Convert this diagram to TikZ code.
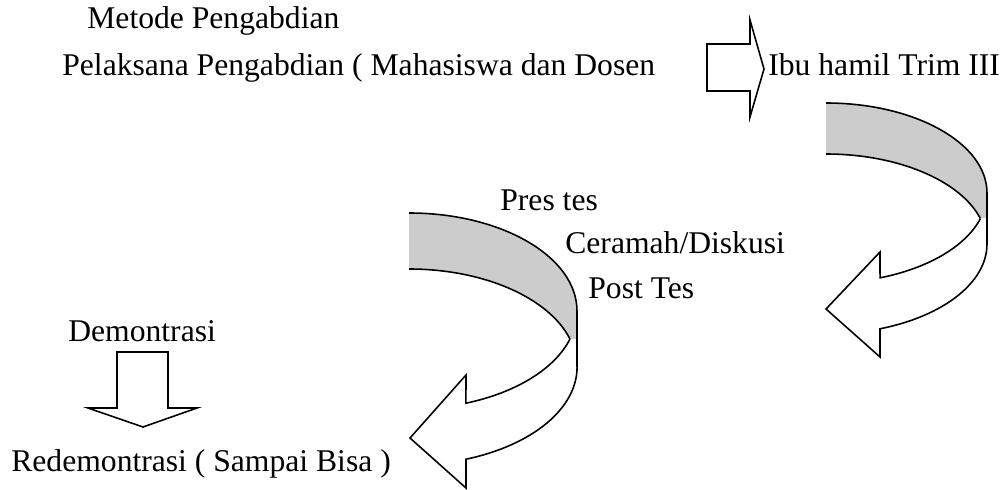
\documentclass[tikz,border=0pt]{standalone}
\usepackage{fontspec}
\setmainfont{Liberation Serif}
\usetikzlibrary{positioning}
\tikzstyle{lbl}=[anchor=base west,inner sep=0pt,font=\fontsize{18}{22}\selectfont]
\tikzstyle{outline}=[draw=black,line width=0.9pt,line join=miter]
\tikzstyle{rarc}=[x radius=161,y radius=90]
\tikzstyle{larc}=[x radius=168,y radius=98]
\begin{document}
\begin{tikzpicture}[x=0.02cm,y=-0.02cm]
  \useasboundingbox (0,0) rectangle (1002,490);
  % texts
  \node[lbl] (metode) at (87,29) {Metode Pengabdian};
  \node[lbl] (pelaksana) at (62,75) {Pelaksana Pengabdian ( Mahasiswa dan Dosen};
  \node[lbl] (ibu) at (768,75) {Ibu hamil Trim III};
  \node[lbl] (pres) at (500,210) {Pres tes};
  \node[lbl] (ceramah) at (565,253) {Ceramah/Diskusi};
  \node[lbl] (post) at (588,298) {Post Tes};
  \node[lbl] (demo) at (68,341) {Demontrasi};
  \node[lbl] (redemo) at (11,471) {Redemontrasi ( Sampai Bisa )};
  % block arrows
  \draw[outline] (707,44) -- (750,44) -- (750,20) -- (764,69) -- (750,117)
    -- (750,91) -- (707,91) -- cycle;
  \draw[outline] (117,352) -- (168,352) -- (168,408) -- (197,408) -- (143,427)
    -- (88,408) -- (117,408) -- cycle;
  % right curved arrow
  \fill[black!20] (826,103) arc[rarc,start angle=-90,end angle=0] -- (987,244)
    arc[rarc,start angle=0,end angle=-90] -- cycle;
  \begin{scope}
    \clip (0,218.6) rectangle (1002,490);
    \fill[white] (987,193) arc[rarc,start angle=0,end angle=70.4] -- (880,252)
      -- (826,309) -- (880,357) -- (880,328.8) arc[rarc,start angle=70.4,end angle=0] -- cycle;
  \end{scope}
  \draw[outline] (826,103) arc[rarc,start angle=-90,end angle=0] -- (987,244);
  \draw[outline] (826,154) arc[rarc,start angle=-90,end angle=-16.5];
  \draw[outline] (980.4,218.6) arc[rarc,start angle=16.5,end angle=70.4] -- (880,252)
    -- (826,309) -- (880,357) -- (880,328.8) arc[rarc,start angle=70.4,end angle=0];
  % left curved arrow
  \fill[black!20] (409,213) arc[larc,start angle=-90,end angle=0] -- (577,367)
    arc[larc,start angle=0,end angle=-90] -- cycle;
  \begin{scope}
    \clip (0,339) rectangle (1002,490);
    \fill[white] (577,311) arc[larc,start angle=0,end angle=70.2] -- (466,375)
      -- (410,438) -- (466,488) -- (466,459.2) arc[larc,start angle=70.2,end angle=0] -- cycle;
  \end{scope}
  \draw[outline] (409,213) arc[larc,start angle=-90,end angle=0] -- (577,367);
  \draw[outline] (409,269) arc[larc,start angle=-90,end angle=-16.6];
  \draw[outline] (570,339) arc[larc,start angle=16.6,end angle=70.2] -- (466,375)
    -- (410,438) -- (466,488) -- (466,459.2) arc[larc,start angle=70.2,end angle=0];
\end{tikzpicture}
\end{document}
